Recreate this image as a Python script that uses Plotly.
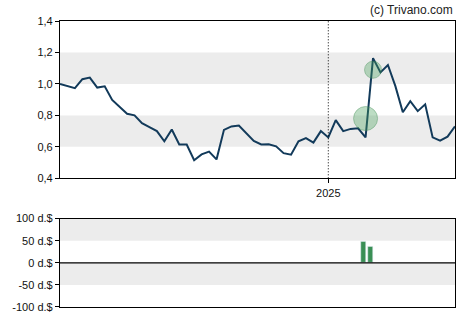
import pandas as pd
import plotly.graph_objects as go

# ---- data ----
prices = [1.0, 0.985, 0.973, 1.03, 1.04, 0.977, 0.985, 0.898, 0.856, 0.81,
          0.80, 0.75, 0.725, 0.70, 0.635, 0.71, 0.615, 0.615, 0.515, 0.552,
          0.57, 0.52, 0.708, 0.73, 0.736, 0.687, 0.637, 0.615, 0.617, 0.603,
          0.56, 0.55, 0.635, 0.655, 0.627, 0.70, 0.66, 0.77, 0.70, 0.714,
          0.718, 0.66, 1.164, 1.073, 1.12, 0.986, 0.82, 0.89, 0.827, 0.87,
          0.66, 0.64, 0.665, 0.73]
dates = pd.date_range(end=pd.Timestamp("2025-01-01") + pd.Timedelta(weeks=17),
                      periods=len(prices), freq="7D")

event_dates = [dates[41], dates[42]]
event_values = [0.78, 1.09]
event_sizes = [24, 17]

bar_dates = [dates[41] - pd.Timedelta(days=2), dates[42] - pd.Timedelta(days=2)]
bar_values = [49, 36]

price_ticks = [0.4, 0.6, 0.8, 1.0, 1.2, 1.4]
flow_ticks = [-100, -50, 0, 50, 100]
flow_labels = ["-100 d.$", "-50 d.$", "0 d.$", "50 d.$", "100 d.$"]

# ---- figure ----
fig = go.Figure()
fig.add_trace(go.Scatter(x=dates, y=prices, mode="lines",
                         line=dict(color="#123a5a", width=2),
                         xaxis="x", yaxis="y", hoverinfo="skip"))
fig.add_trace(go.Scatter(x=event_dates, y=event_values, mode="markers",
                         marker=dict(size=event_sizes, color="rgba(70,160,90,0.5)",
                                     line=dict(color="rgba(60,140,80,0.6)", width=1)),
                         xaxis="x", yaxis="y", hoverinfo="skip"))
fig.add_trace(go.Bar(x=bar_dates, y=bar_values, marker_color="#3a8f55",
                     width=4.7 * 86400000, xaxis="x2", yaxis="y2", hoverinfo="skip"))

xr = [dates[0], dates[-1]]
font = dict(family="Liberation Sans, Arial, sans-serif", size=11, color="#111")

shapes = []
for lo, hi in [(0.6, 0.8), (1.0, 1.2)]:
    shapes.append(dict(type="rect", xref="x domain", yref="y", x0=0, x1=1, y0=lo, y1=hi,
                       fillcolor="#ececec", line_width=0, layer="below"))
for lo, hi in [(-50, 0), (50, 100)]:
    shapes.append(dict(type="rect", xref="x2 domain", yref="y2", x0=0, x1=1, y0=lo, y1=hi,
                       fillcolor="#ececec", line_width=0, layer="below"))
shapes.append(dict(type="line", xref="x", yref="y domain", x0="2025-01-01", x1="2025-01-01",
                   y0=0, y1=1, line=dict(color="#000", width=1, dash="1px,2px")))
shapes.append(dict(type="line", xref="x2 domain", yref="y2", x0=0, x1=1, y0=0, y1=0,
                   line=dict(color="#000", width=1.2)))

fig.update_layout(
    width=470, height=325,
    margin=dict(l=60, r=15, t=21, b=15),
    paper_bgcolor="white", plot_bgcolor="white",
    showlegend=False, separators=",.",
    font=font,
    shapes=shapes,
    bargap=0,
    xaxis=dict(domain=[0, 1], anchor="y", type="date", range=xr,
               tickvals=["2025-01-01"], ticktext=["2025"],
               showgrid=False, zeroline=False, showline=True, linecolor="#000",
               linewidth=1.2, mirror=True, ticks="outside", ticklen=4, tickcolor="#000"),
    yaxis=dict(domain=[0.45, 1], anchor="x", range=[0.4, 1.4], tickvals=price_ticks,
               tickformat=".1f", showgrid=False, zeroline=False, showline=True,
               linecolor="#000", linewidth=1.2, mirror=True, ticks="outside",
               ticklen=4, tickcolor="#000"),
    xaxis2=dict(domain=[0, 1], anchor="y2", type="date", range=xr, showticklabels=False,
                showgrid=False, zeroline=False, showline=True, linecolor="#000",
                linewidth=1.2, mirror=True, ticks=""),
    yaxis2=dict(domain=[0, 0.309], anchor="x2", range=[-100, 100], tickvals=flow_ticks,
                ticktext=flow_labels, showgrid=False, zeroline=False, showline=True,
                linecolor="#000", linewidth=1.2, mirror=True, ticks="outside",
                ticklen=4, tickcolor="#000"),
    annotations=[dict(text="(c) Trivano.com", xref="paper", yref="paper", x=1, y=1,
                      yshift=20, xanchor="right", yanchor="top", showarrow=False,
                      font=dict(family="Liberation Sans, Arial, sans-serif", size=12,
                                color="#222"))],
)

fig.write_html("out.html")
